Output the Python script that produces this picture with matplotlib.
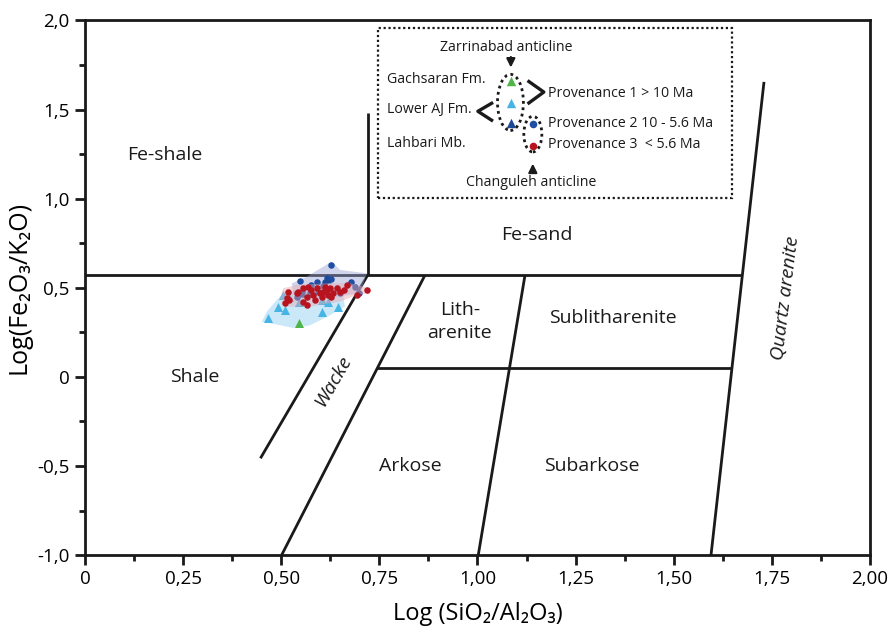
import numpy as np
import matplotlib
matplotlib.use("Agg")
import matplotlib.pyplot as plt
from matplotlib.patches import Ellipse, Polygon, Rectangle

plt.rcParams['font.family'] = ['Open Sans', 'DejaVu Sans']

# sample groups (x = log SiO2/Al2O3, y = log Fe2O3/K2O)
lahbari_x = [0.518, 0.543, 0.556, 0.569, 0.577, 0.590, 0.599, 0.607, 0.616, 0.624,
             0.633, 0.641, 0.650, 0.667, 0.692, 0.718, 0.510, 0.514, 0.556, 0.565,
             0.582, 0.620, 0.565, 0.603, 0.628, 0.520, 0.540, 0.585, 0.612, 0.660]
lahbari_y = [0.478, 0.478, 0.497, 0.506, 0.488, 0.497, 0.469, 0.478, 0.488, 0.497,
             0.469, 0.497, 0.478, 0.516, 0.460, 0.488, 0.413, 0.441, 0.422, 0.450,
             0.460, 0.460, 0.403, 0.450, 0.450, 0.430, 0.470, 0.430, 0.505, 0.490]

prov2_x = [0.626, 0.549, 0.590, 0.611, 0.617, 0.628, 0.678, 0.539, 0.552, 0.577,
           0.607, 0.594, 0.650, 0.697, 0.688, 0.572]
prov2_y = [0.628, 0.540, 0.534, 0.534, 0.553, 0.548, 0.534, 0.450, 0.478, 0.516,
           0.510, 0.478, 0.469, 0.469, 0.506, 0.470]

lower_aj_x = [0.505, 0.491, 0.509, 0.467, 0.544, 0.603, 0.645, 0.620, 0.603, 0.520]
lower_aj_y = [0.460, 0.394, 0.376, 0.329, 0.422, 0.366, 0.394, 0.422, 0.430, 0.450]

dark_tri_x = [0.616, 0.553]
dark_tri_y = [0.548, 0.469]

gachsaran_x = [0.545]
gachsaran_y = [0.300]

# field outlines around each group
hull_aj_x = [0.450, 0.463, 0.497, 0.539, 0.624, 0.658, 0.662, 0.624, 0.573, 0.531, 0.478]
hull_aj_y = [0.308, 0.366, 0.452, 0.490, 0.508, 0.469, 0.394, 0.345, 0.289, 0.274, 0.298]
hull_red_x = [0.505, 0.539, 0.624, 0.675, 0.726, 0.726, 0.692, 0.650, 0.573, 0.510, 0.497]
hull_red_y = [0.497, 0.516, 0.525, 0.525, 0.497, 0.469, 0.460, 0.422, 0.394, 0.394, 0.441]
hull_blue_x = [0.527, 0.565, 0.607, 0.628, 0.650, 0.718, 0.701, 0.641, 0.565, 0.531]
hull_blue_y = [0.525, 0.562, 0.618, 0.647, 0.600, 0.581, 0.469, 0.450, 0.441, 0.460]

# classification boundaries (Herron 1988)
boundaries = [
    ([0.0, 1.675], [0.57, 0.57]),
    ([0.72, 0.72], [0.57, 1.48]),
    ([0.447, 0.72], [-0.457, 0.57]),
    ([0.501, 0.866], [-1.0, 0.57]),
    ([1.002, 1.121], [-1.0, 0.57]),
    ([0.745, 1.648], [0.048, 0.048]),
    ([1.595, 1.73], [-1.0, 1.655]),
]

fields = [
    ("Fe-shale", 0.204, 1.245, 0, "normal"),
    ("Fe-sand", 1.152, 0.796, 0, "normal"),
    ("Shale", 0.28, 0.0, 0, "normal"),
    ("Lith-\narenite", 0.955, 0.31, 0, "normal"),
    ("Sublitharenite", 1.345, 0.33, 0, "normal"),
    ("Wacke", 0.632, -0.02, 60, "italic"),
    ("Arkose", 0.828, -0.50, 0, "normal"),
    ("Subarkose", 1.292, -0.50, 0, "normal"),
    ("Quartz arenite", 1.786, 0.44, 83, "italic"),
]

xticks = [0, 0.25, 0.5, 0.75, 1.0, 1.25, 1.5, 1.75, 2.0]
xticklabels = ["0", "0,25", "0,50", "0,75", "1,00", "1,25", "1,50", "1,75", "2,00"]
yticks = [-1.0, -0.5, 0, 0.5, 1.0, 1.5, 2.0]
yticklabels = ["-1,0", "-0,5", "0", "0,5", "1,0", "1,5", "2,0"]

RED = "#b8141f"
BLUE = "#1f4ea3"
LIGHT = "#47b4e6"
GREEN = "#4fb548"
DARK_TRI = "#1d4a96"
INK = "#1a1a1a"

fig = plt.figure(figsize=(8.92, 6.38), dpi=100)
ax = fig.add_axes([0.0953, 0.130, 0.880, 0.838])
ax.set_xlim(0, 2)
ax.set_ylim(-1, 2)

for xs, ys in boundaries:
    ax.plot(xs, ys, color=INK, lw=2.0, solid_capstyle="butt", zorder=2)

# fields and points, layered so the overlaps tint
ax.add_patch(Polygon(np.column_stack([hull_aj_x, hull_aj_y]), closed=True,
                     facecolor="#bfe3f7", edgecolor="none", alpha=0.8, zorder=3))
ax.scatter(lower_aj_x, lower_aj_y, marker="^", s=42, color=LIGHT, lw=0, zorder=4)
ax.scatter(gachsaran_x, gachsaran_y, marker="^", s=42, color=GREEN, lw=0, zorder=4)
ax.add_patch(Polygon(np.column_stack([hull_blue_x, hull_blue_y]), closed=True,
                     facecolor="#9aa3d6", edgecolor="none", alpha=0.45, zorder=5))
ax.scatter(prov2_x, prov2_y, marker="o", s=22, color=BLUE, lw=0, zorder=6)
ax.scatter(dark_tri_x, dark_tri_y, marker="^", s=36, color=DARK_TRI, lw=0, zorder=6)
ax.add_patch(Polygon(np.column_stack([hull_red_x, hull_red_y]), closed=True,
                     facecolor="#e6a9b0", edgecolor="none", alpha=0.45, zorder=7))
ax.scatter(lahbari_x, lahbari_y, marker="o", s=22, color=RED, lw=0, zorder=8)

for label, x, y, rot, style in fields:
    ax.text(x, y, label, fontsize=14, rotation=rot, style=style,
            ha="center", va="center", color=INK, linespacing=1.3, zorder=9)

# legend box
ax.add_patch(Rectangle((0.746, 1.004), 0.902, 0.954, fill=False, ec=INK,
                       lw=1.6, ls=(0, (1, 1.2)), zorder=9))
lg = dict(fontsize=10.2, color=INK, va="center", zorder=10)
ax.text(1.074, 1.847, "Zarrinabad anticline", ha="center", **lg)
ax.text(1.138, 1.090, "Changuleh anticline", ha="center", **lg)
ax.text(0.769, 1.666, "Gachsaran Fm.", ha="left", **lg)
ax.text(0.769, 1.502, "Lower AJ Fm.", ha="left", **lg)
ax.text(0.769, 1.307, "Lahbari Mb.", ha="left", **lg)
ax.text(1.180, 1.588, "Provenance 1 > 10 Ma", ha="left", **lg)
ax.text(1.180, 1.423, "Provenance 2 10 - 5.6 Ma", ha="left", **lg)
ax.text(1.180, 1.301, "Provenance 3  < 5.6 Ma", ha="left", **lg)

ax.scatter([1.085], [1.662], marker="^", s=46, color=GREEN, lw=0, zorder=10)
ax.scatter([1.085], [1.535], marker="^", s=46, color=LIGHT, lw=0, zorder=10)
ax.scatter([1.085], [1.427], marker="^", s=46, color=DARK_TRI, lw=0, zorder=10)
ax.scatter([1.141], [1.416], marker="o", s=30, color=BLUE, lw=0, zorder=10)
ax.scatter([1.141], [1.298], marker="o", s=30, color=RED, lw=0, zorder=10)

ax.add_patch(Ellipse((1.084, 1.540), 0.066, 0.315, fill=False, ec=INK,
                     lw=2.0, ls=(0, (1, 1.3)), zorder=10))
ax.add_patch(Ellipse((1.141, 1.362), 0.046, 0.200, fill=False, ec=INK,
                     lw=2.0, ls=(0, (1, 1.3)), zorder=10))

arrow = dict(arrowstyle="-|>,head_length=0.5,head_width=0.25", color=INK, lw=1.6)
ax.annotate("", xy=(1.085, 1.720), xytext=(1.085, 1.810), arrowprops=arrow, zorder=10)
ax.annotate("", xy=(1.141, 1.212), xytext=(1.141, 1.132), arrowprops=arrow, zorder=10)

# brackets pointing to formation and provenance names
ax.plot([1.036, 1.001, 1.036], [1.535, 1.490, 1.440], color=INK, lw=2.4, zorder=10)
ax.plot([1.131, 1.169, 1.131], [1.657, 1.598, 1.537], color=INK, lw=2.4, zorder=10)

ax.set_xticks(xticks)
ax.set_xticklabels(xticklabels, fontsize=13.5)
ax.set_yticks(yticks)
ax.set_yticklabels(yticklabels, fontsize=13.5)
ax.set_xticks(np.arange(0.125, 2.0, 0.25), minor=True)
ax.set_yticks(np.arange(-0.75, 2.0, 0.5), minor=True)
ax.tick_params(which="major", direction="out", length=7, width=2, color=INK, pad=4)
ax.tick_params(which="minor", direction="out", length=4, width=2, color=INK)
for sp in ax.spines.values():
    sp.set_linewidth(2)
    sp.set_color(INK)

ax.set_xlabel("Log (SiO\u2082/Al\u2082O\u2083)", fontsize=17, labelpad=10)
ax.set_ylabel("Log(Fe\u2082O\u2083/K\u2082O)", fontsize=18, labelpad=4)

fig.savefig("out.png", dpi=100)
